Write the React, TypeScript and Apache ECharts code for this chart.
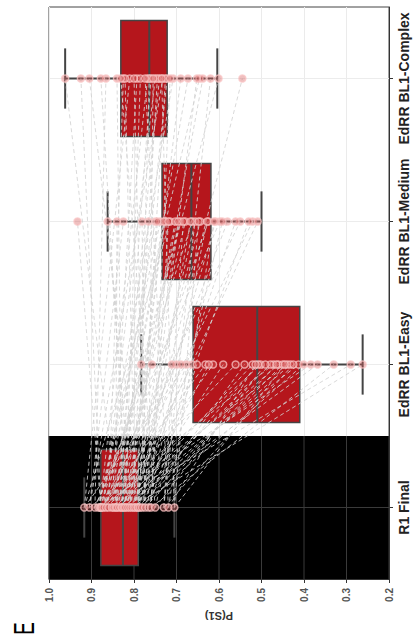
import React, { useEffect, useRef } from 'react';
import * as echarts from 'echarts';

const categories = ['R1 Final', 'EdRR BL1-Easy', 'EdRR BL1-Medium', 'EdRR BL1-Complex'];
const valueTicks = [0.2, 0.3, 0.4, 0.5, 0.6, 0.7, 0.8, 0.9, 1.0];

const r1Final = [0.917, 0.905, 0.892, 0.884, 0.880, 0.878, 0.876, 0.872, 0.866, 0.860, 0.852, 0.848, 0.843, 0.840, 0.835, 0.830, 0.828, 0.824, 0.821, 0.816, 0.811, 0.806, 0.801, 0.797, 0.792, 0.790, 0.786, 0.781, 0.774, 0.766, 0.760, 0.750, 0.730, 0.719, 0.705];
const bl1Easy = [0.677, 0.472, 0.758, 0.384, 0.561, 0.632, 0.439, 0.700, 0.502, 0.290, 0.614, 0.460, 0.783, 0.413, 0.521, 0.663, 0.368, 0.479, 0.711, 0.432, 0.590, 0.262, 0.508, 0.624, 0.450, 0.689, 0.401, 0.540, 0.465, 0.652, 0.330, 0.491, 0.425, 0.514, 0.445];
const bl1Medium = [0.715, 0.825, 0.598, 0.738, 0.663, 0.933, 0.550, 0.691, 0.750, 0.625, 0.726, 0.521, 0.840, 0.679, 0.580, 0.703, 0.766, 0.644, 0.509, 0.730, 0.656, 0.862, 0.608, 0.696, 0.561, 0.745, 0.667, 0.530, 0.781, 0.628, 0.719, 0.592, 0.684, 0.612, 0.648];
const bl1Complex = [0.810, 0.732, 0.866, 0.646, 0.768, 0.925, 0.708, 0.750, 0.601, 0.825, 0.793, 0.673, 0.740, 0.962, 0.760, 0.722, 0.840, 0.638, 0.785, 0.878, 0.690, 0.745, 0.545, 0.821, 0.764, 0.726, 0.905, 0.652, 0.800, 0.755, 0.715, 0.831, 0.620, 0.774, 0.735];

const boxLow = [0.705, 0.262, 0.50, 0.604];
const boxQ1 = [0.79, 0.41, 0.619, 0.722];
const boxMed = [0.826, 0.51, 0.665, 0.764];
const boxQ3 = [0.878, 0.661, 0.734, 0.831];
const boxHigh = [0.917, 0.783, 0.862, 0.962];

export default function App() {
  const ref = useRef<HTMLDivElement>(null);
  useEffect(() => {
    const chart = echarts.init(ref.current!, null, { renderer: 'svg' });
    const participants = r1Final.map((f, i) => [f, bl1Easy[i], bl1Medium[i], bl1Complex[i], 0]);
    const boxData = categories.map((_, i) => [i, boxLow[i], boxQ1[i], boxMed[i], boxQ3[i], boxHigh[i]]);
    const dotData: number[][] = [];
    [r1Final, bl1Easy, bl1Medium, bl1Complex].forEach((arr, ci) => arr.forEach((v) => dotData.push([v, ci])));

    const option: any = {
      animation: false,
      textStyle: { fontFamily: 'Liberation Sans, Arial, sans-serif' },
      grid: { left: 49, right: 25, top: 7, bottom: 65, show: true, borderColor: '#444', borderWidth: 1, backgroundColor: '#fff' },
      xAxis: {
        type: 'value',
        min: 0.2,
        max: 1.0,
        interval: 0.1,
        inverse: true,
        axisLine: { show: true, lineStyle: { color: '#333', width: 1 } },
        axisTick: { show: true, length: 4, lineStyle: { color: '#333' } },
        axisLabel: { rotate: 90, fontSize: 10, fontWeight: 'bold', color: '#555', margin: 9, formatter: (v: number) => v.toFixed(1) },
        splitLine: { show: true, lineStyle: { color: '#ebebeb', width: 1 } },
      },
      yAxis: {
        type: 'category',
        data: categories,
        position: 'right',
        axisLine: { show: true, lineStyle: { color: '#333', width: 1 } },
        axisTick: { show: true, length: 4, alignWithLabel: true, interval: 0, lineStyle: { color: '#333' } },
        axisLabel: { rotate: 90, interval: 0, hideOverlap: false, fontSize: 14, fontWeight: 'bold', color: '#222', margin: 8 },
        splitLine: { show: false },
      },
      graphic: [
        { type: 'text', x: 219, y: 616, rotation: Math.PI, style: { text: 'P(S1)', fontSize: 11, fontWeight: 'bold', fill: '#333', align: 'center', verticalAlign: 'middle', fontFamily: 'Liberation Sans, Arial, sans-serif' } },
        { type: 'text', x: 23.5, y: 628.5, rotation: Math.PI / 2, scaleX: 0.65, style: { text: 'E', fontSize: 29, fill: '#000', align: 'center', verticalAlign: 'middle', fontFamily: 'Liberation Sans, Arial, sans-serif' } },
      ],
      series: [
        {
          type: 'custom',
          z: 1,
          silent: true,
          clip: false,
          data: [[0.6, 0]],
          encode: { x: 0, y: 1 },
          renderItem: (params: any, api: any) => {
            const cs = params.coordSys;
            const bandH = cs.height / categories.length;
            const c0 = api.coord([0.6, 0])[1];
            const children: any[] = [];
            children.push({ type: 'rect', shape: { x: cs.x, y: c0 - bandH / 2, width: cs.width, height: bandH }, style: { fill: '#000' } });
            valueTicks.forEach((t) => {
              const x = api.coord([t, 0])[0];
              children.push({ type: 'line', shape: { x1: x, y1: c0 - bandH / 2, x2: x, y2: c0 + bandH / 2 }, style: { stroke: '#3a3a3a', lineWidth: 1 } });
            });
            categories.forEach((_, ci) => {
              const y = api.coord([0.6, ci])[1];
              children.push({ type: 'line', shape: { x1: cs.x, y1: y, x2: cs.x + cs.width, y2: y }, style: { stroke: ci === 0 ? '#3a3a3a' : '#ececec', lineWidth: 1 } });
            });
            return { type: 'group', children };
          },
        },
        {
          type: 'custom',
          z: 2,
          silent: true,
          data: boxData,
          encode: { y: 0, x: [1, 2, 3, 4, 5] },
          renderItem: (params: any, api: any) => {
            const ci = api.value(0);
            const bandH = params.coordSys.height / categories.length;
            const h = bandH * 0.81;
            const cap = h * 0.52;
            const yc = api.coord([0.6, ci])[1];
            const xl = api.coord([api.value(1), ci])[0];
            const x1 = api.coord([api.value(2), ci])[0];
            const xm = api.coord([api.value(3), ci])[0];
            const x3 = api.coord([api.value(4), ci])[0];
            const xh = api.coord([api.value(5), ci])[0];
            const ws = { stroke: '#444', lineWidth: 2 };
            return {
              type: 'group',
              children: [
                { type: 'line', shape: { x1: xh, y1: yc, x2: x3, y2: yc }, style: ws },
                { type: 'line', shape: { x1: x1, y1: yc, x2: xl, y2: yc }, style: ws },
                { type: 'line', shape: { x1: xh, y1: yc - cap / 2, x2: xh, y2: yc + cap / 2 }, style: ws },
                { type: 'line', shape: { x1: xl, y1: yc - cap / 2, x2: xl, y2: yc + cap / 2 }, style: ws },
                { type: 'rect', shape: { x: Math.min(x3, x1), y: yc - h / 2, width: Math.abs(x1 - x3), height: h }, style: { fill: '#b5161c', stroke: '#444', lineWidth: 1.5 } },
                { type: 'line', shape: { x1: xm, y1: yc - h / 2, x2: xm, y2: yc + h / 2 }, style: { stroke: '#444', lineWidth: 2 } },
              ],
            };
          },
        },
        {
          type: 'custom',
          z: 3,
          silent: true,
          data: participants,
          encode: { x: [0, 1, 2, 3], y: 4 },
          renderItem: (params: any, api: any) => {
            const p0 = api.coord([api.value(0), 0]);
            const children = [1, 2, 3].map((j) => {
              const p = api.coord([api.value(j), j]);
              return { type: 'line', shape: { x1: p0[0], y1: p0[1], x2: p[0], y2: p[1] }, style: { stroke: 'rgba(210,210,210,0.85)', lineWidth: 1, lineDash: [4, 3] } };
            });
            return { type: 'group', children };
          },
        },
        {
          type: 'scatter',
          z: 4,
          data: dotData,
          symbolSize: 7,
          itemStyle: { color: 'rgba(215,95,95,0.5)', borderColor: 'rgba(248,195,195,0.95)', borderWidth: 1.5 },
        },
      ],
    };
    chart.setOption(option);
    return () => chart.dispose();
  }, []);
  return <div ref={ref} style={{ position: 'absolute', left: 0, top: 0, width: 414, height: 644 }} />;
}
